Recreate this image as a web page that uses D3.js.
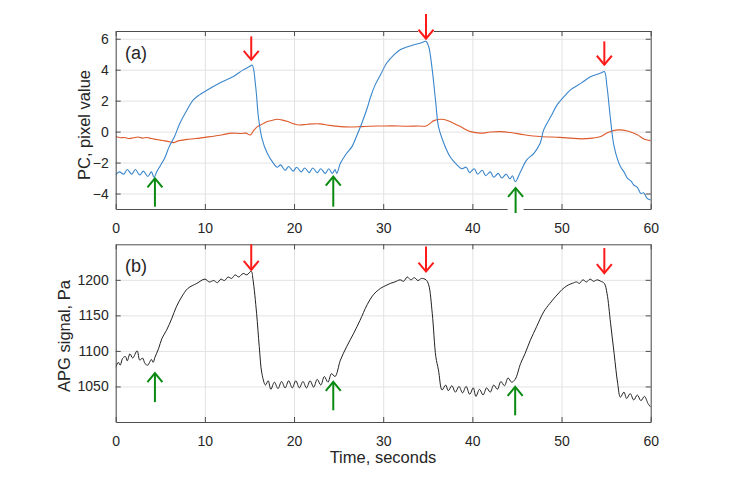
<!DOCTYPE html>
<html><head><meta charset="utf-8">
<script src="https://cdn.jsdelivr.net/npm/d3@7"></script>
<style>body{margin:0;background:#fff}svg{display:block}text{font-family:"Liberation Sans",Arial,Helvetica,sans-serif;fill:#262626}</style>
</head><body>
<script>
// ---- data ----
const xTicks = [0,10,20,30,40,50,60];
const yTicksA = [-4,-2,0,2,4,6];
const yTicksB = [1050,1100,1150,1200];
const xLabel = "Time, seconds";
const yLabelA = "PC, pixel value";
const yLabelB = "APG signal, Pa";

// PC blue component [time, value]
const pcBlue = [[0,-2.8],[0.4,-2.6],[0.9,-2.75],[1.3,-2.45],[1.8,-2.75],[2.2,-2.45],[2.7,-2.8],[3.1,-2.55],[3.6,-2.9],[4.0,-2.6],[4.3,-2.95],[4.6,-2.6],[5.0,-2.2],[5.5,-1.7],[6.0,-0.97],[6.6,-0.32],[7.2,0.54],[8.0,1.4],[8.7,2.05],[9.4,2.37],[10.0,2.59],[10.9,2.9],[12.0,3.24],[13.2,3.56],[14.3,3.99],[15.0,4.2],[15.3,4.3],[15.7,2.9],[16.0,0.97],[16.4,-0.43],[17.0,-1.4],[17.7,-2.05],[18.1,-2.3],[18.5,-2.15],[19.0,-2.5],[19.4,-2.25],[19.9,-2.55],[20.3,-2.3],[20.8,-2.6],[21.2,-2.35],[21.7,-2.65],[22.1,-2.35],[22.6,-2.65],[23.0,-2.4],[23.5,-2.7],[23.9,-2.4],[24.3,-2.7],[24.6,-2.45],[24.8,-2.7],[25.2,-2.05],[25.9,-1.4],[26.5,-0.97],[27.0,-0.32],[27.6,0.54],[28.2,1.51],[28.6,2.27],[29.1,3.02],[29.7,3.67],[30.4,4.43],[31.2,4.96],[31.9,5.29],[33.1,5.55],[34.2,5.72],[34.8,5.83],[35.1,5.5],[35.5,3.99],[35.9,1.84],[36.2,0.32],[36.8,-0.75],[37.5,-1.62],[38.3,-2.16],[38.8,-2.4],[39.3,-2.3],[39.7,-2.65],[40.2,-2.4],[40.6,-2.75],[41.1,-2.5],[41.5,-2.85],[42.0,-2.6],[42.4,-2.95],[42.9,-2.7],[43.3,-3.0],[43.8,-2.75],[44.2,-3.05],[44.5,-2.85],[44.8,-3.24],[45.4,-2.59],[46.1,-1.83],[46.9,-1.4],[47.6,-0.75],[48.0,0.11],[48.8,0.97],[49.5,1.73],[50.3,2.27],[51.0,2.7],[52.2,3.13],[53.3,3.56],[54.4,3.78],[54.8,3.88],[55.1,2.9],[55.5,0.76],[55.9,-0.97],[56.6,-2.26],[57.0,-2.6],[57.4,-3.02],[57.8,-3.2],[58.1,-3.45],[58.5,-3.6],[58.9,-4.0],[59.2,-3.95],[59.6,-4.31],[60,-4.42]];

// PC orange component [time, value]
const pcOrange = [[0,-0.32],[0.5,-0.4],[1,-0.38],[1.5,-0.45],[2,-0.4],[2.5,-0.35],[3,-0.42],[3.5,-0.38],[4,-0.45],[4.5,-0.5],[5,-0.55],[5.5,-0.6],[6,-0.65],[6.5,-0.71],[7,-0.6],[7.5,-0.55],[8,-0.5],[9,-0.45],[10,-0.37],[11,-0.3],[12,-0.2],[13,-0.1],[14,-0.12],[14.6,-0.1],[15.1,-0.22],[15.5,0.1],[15.9,0.32],[16.5,0.5],[17,0.65],[17.5,0.72],[18.1,0.8],[18.6,0.76],[19.3,0.65],[20,0.5],[20.6,0.43],[21.5,0.48],[22.9,0.5],[24,0.4],[25.2,0.32],[26.3,0.3],[27.4,0.32],[28.5,0.35],[29.7,0.36],[31,0.37],[32.5,0.35],[34,0.36],[34.8,0.36],[35.3,0.55],[35.7,0.71],[36.6,0.8],[37.5,0.65],[38.1,0.48],[38.7,0.32],[39.3,0.12],[39.8,0.0],[40.9,-0.1],[42,-0.03],[43.1,0.0],[44.3,-0.06],[45.8,-0.2],[47.6,-0.32],[49.8,-0.37],[51,-0.42],[52.2,-0.47],[53.5,-0.42],[54.4,-0.32],[55.2,-0.06],[56.3,0.11],[57.4,0.04],[58.5,-0.2],[59.3,-0.49],[60,-0.58]];

// APG signal [time, Pa]
const apg = [[0,1077],[0.3,1084],[0.5,1080],[0.8,1090],[1.1,1092],[1.3,1086],[1.6,1096],[1.9,1090],[2.4,1100],[2.7,1087],[3.0,1090],[3.3,1082],[3.6,1080],[3.8,1084],[4.0,1088],[4.2,1084],[4.4,1091],[4.8,1103],[5.2,1118],[5.7,1129],[6.3,1146],[6.8,1162],[7.4,1176],[8.1,1188],[9.1,1195],[10,1201],[10.5,1197],[11,1199],[11.4,1196],[11.8,1201],[12.2,1199],[12.6,1204],[13.0,1202],[13.4,1207],[13.8,1204],[14.3,1209],[14.7,1207],[15.2,1212],[15.4,1200],[15.8,1153],[16.1,1106],[16.4,1068],[16.8,1052],[17.1,1058],[17.4,1046],[17.8,1056],[18.2,1047],[18.6,1057],[19.0,1048],[19.4,1058],[19.8,1048],[20.2,1058],[20.6,1048],[21.0,1057],[21.4,1048],[21.8,1058],[22.2,1049],[22.6,1060],[23.0,1052],[23.4,1064],[23.8,1056],[24.2,1068],[24.6,1064],[25.2,1087],[25.9,1106],[26.7,1125],[27.4,1143],[28.2,1165],[28.9,1179],[29.7,1188],[30.3,1192],[30.8,1195],[31.3,1197],[31.9,1200],[32.3,1198],[32.7,1204],[33.1,1200],[33.5,1203],[33.9,1199],[34.3,1202],[34.8,1200],[35.1,1193],[35.5,1153],[35.9,1092],[36.2,1073],[36.6,1045],[37.0,1052],[37.3,1044],[37.7,1051],[38.1,1042],[38.5,1050],[38.9,1041],[39.3,1050],[39.7,1039],[40.1,1048],[40.4,1036],[40.8,1046],[41.2,1038],[41.6,1048],[42.0,1042],[42.4,1052],[42.8,1046],[43.2,1057],[43.6,1051],[44.0,1062],[44.4,1056],[44.8,1060],[45.4,1082],[45.9,1096],[46.5,1115],[47.2,1134],[48.0,1155],[48.7,1167],[49.3,1176],[49.8,1183],[50.3,1189],[50.8,1193],[51.2,1195],[51.7,1197],[52.0,1195],[52.4,1200],[52.8,1197],[53.2,1201],[53.6,1198],[54.0,1200],[54.4,1198],[54.8,1195],[55.1,1181],[55.5,1139],[55.9,1096],[56.3,1054],[56.6,1035],[57.0,1042],[57.3,1033],[57.7,1040],[58.1,1031],[58.5,1038],[58.9,1030],[59.3,1036],[59.7,1026],[60,1021]];

// arrows: [time, tailValue, tipValue]
const redArrowsA = [[15.2,6.15,4.64],[34.8,7.6,6.0],[54.8,5.83,4.32]];
const greenArrowsA = [[4.4,-4.85,-3.02],[24.4,-4.85,-2.91],[44.85,-5.26,-3.64]];
const redArrowsB = [[15.2,1250,1214],[34.8,1247,1211.7],[54.8,1244.7,1209.4]];
const greenArrowsB = [[4.4,1028,1068.7],[24.4,1016.5,1056.4],[44.8,1009.4,1049.4]];

// ---- drawing ----
const W = 732, H = 486;
const svg = d3.select("body").append("svg").attr("width", W).attr("height", H);
svg.append("rect").attr("width", W).attr("height", H).attr("fill", "#fff");

const x = d3.scaleLinear().domain([0,60]).range([115.7,650.7]);
const yA = d3.scaleLinear().domain([-5,6.5]).range([209,31]);
const yB = d3.scaleLinear().domain([1000,1250]).range([422,244.3]);
const fmt = d3.format("d");

function panel(y, yTicks, series, label, tag, yLabel, labelX, labelY) {
  const [y0, y1] = y.range(); // bottom, top
  const x0 = x.range()[0], x1 = x.range()[1];
  const g = svg.append("g");
  // grid
  g.append("g").attr("transform", `translate(0,${y0})`)
    .call(d3.axisBottom(x).tickValues(xTicks).tickSize(-(y0 - y1)).tickFormat(""))
    .call(s => s.select(".domain").remove())
    .call(s => s.selectAll("line").attr("stroke", "#e3e3e3"));
  g.append("g").attr("transform", `translate(${x0},0)`)
    .call(d3.axisLeft(y).tickValues(yTicks).tickSize(-(x1 - x0)).tickFormat(""))
    .call(s => s.select(".domain").remove())
    .call(s => s.selectAll("line").attr("stroke", "#e3e3e3"));
  // series
  const clip = "clip" + tag;
  svg.append("clipPath").attr("id", clip).append("rect")
    .attr("x", x0).attr("y", y1).attr("width", x1 - x0).attr("height", y0 - y1);
  series.forEach(s => {
    g.append("path").datum(s.data)
      .attr("clip-path", `url(#${clip})`)
      .attr("fill", "none").attr("stroke", s.color).attr("stroke-width", s.w)
      .attr("stroke-linejoin", "round")
      .attr("d", d3.line().curve(d3.curveCatmullRom.alpha(0.5)).x(d => x(d[0])).y(d => y(d[1])));
  });
  // axes
  const styleAx = s => {
    s.select(".domain").attr("stroke", "#4d4d4d");
    s.selectAll(".tick line").attr("stroke", "#4d4d4d");
    s.selectAll("text").style("font-size", "14px").attr("fill", "#262626")
      .style("font-family", '"Liberation Sans", Arial, sans-serif');
  };
  g.append("g").attr("transform", `translate(0,${y0})`)
    .call(d3.axisBottom(x).tickValues(xTicks).tickFormat(fmt).tickSizeInner(-5).tickSizeOuter(0).tickPadding(14))
    .call(styleAx);
  g.append("g").attr("transform", `translate(0,${y1})`)
    .call(d3.axisTop(x).tickValues(xTicks).tickSizeInner(-5).tickSizeOuter(0).tickFormat(""))
    .call(styleAx);
  g.append("g").attr("transform", `translate(${x0},0)`)
    .call(d3.axisLeft(y).tickValues(yTicks).tickFormat(fmt).tickSizeInner(-5).tickSizeOuter(0).tickPadding(7))
    .call(styleAx);
  g.append("g").attr("transform", `translate(${x1},0)`)
    .call(d3.axisRight(y).tickValues(yTicks).tickSizeInner(-5).tickSizeOuter(0).tickFormat(""))
    .call(styleAx);
  // panel tag
  g.append("text").attr("x", 125).attr("y", y1 + 28).style("font-size", "18px").text(label);
  // y label
  g.append("text").attr("transform", `translate(${labelX},${labelY}) rotate(-90)`)
    .attr("text-anchor", "middle").style("font-size", "16.5px").text(yLabel);
  return g;
}

const gA = panel(yA, yTicksA, [
  {data: pcOrange, color: "#dd5a2b", w: 1.1},
  {data: pcBlue, color: "#3a86cc", w: 1.1}
], "(a)", "A", yLabelA, 89.5, 125);
const gB = panel(yB, yTicksB, [
  {data: apg, color: "#222", w: 1}
], "(b)", "B", yLabelB, 69.5, 336);

svg.append("text").attr("x", 383).attr("y", 463).attr("text-anchor", "middle")
  .style("font-size", "16.5px").text(xLabel);

function arrow(y, a, color) {
  const px = x(a[0]), yt = y(a[1]), yh = y(a[2]);
  const dir = yh > yt ? 1 : -1;
  const [yb, ytop] = y.range();
  [yb, ytop].forEach(fy => {
    if ((fy - Math.min(yt, yh)) > 2 && (Math.max(yt, yh) - fy) > 2) {
      svg.append("rect").attr("x", px - 8).attr("y", fy - 1.5).attr("width", 16).attr("height", 3)
        .attr("fill", "#fff");
    }
  });
  const g = svg.append("g").attr("stroke", color).attr("stroke-width", 2).attr("fill", "none");
  g.append("line").attr("x1", px).attr("x2", px).attr("y1", yt).attr("y2", yh);
  g.append("path").attr("d", `M${px - 7.5},${yh - dir * 9}L${px},${yh}L${px + 7.5},${yh - dir * 9}`);
}
redArrowsA.forEach(a => arrow(yA, a, "#ff1a1a"));
greenArrowsA.forEach(a => arrow(yA, a, "#0b8a12"));
redArrowsB.forEach(a => arrow(yB, a, "#ff1a1a"));
greenArrowsB.forEach(a => arrow(yB, a, "#0b8a12"));
</script>
</body></html>
